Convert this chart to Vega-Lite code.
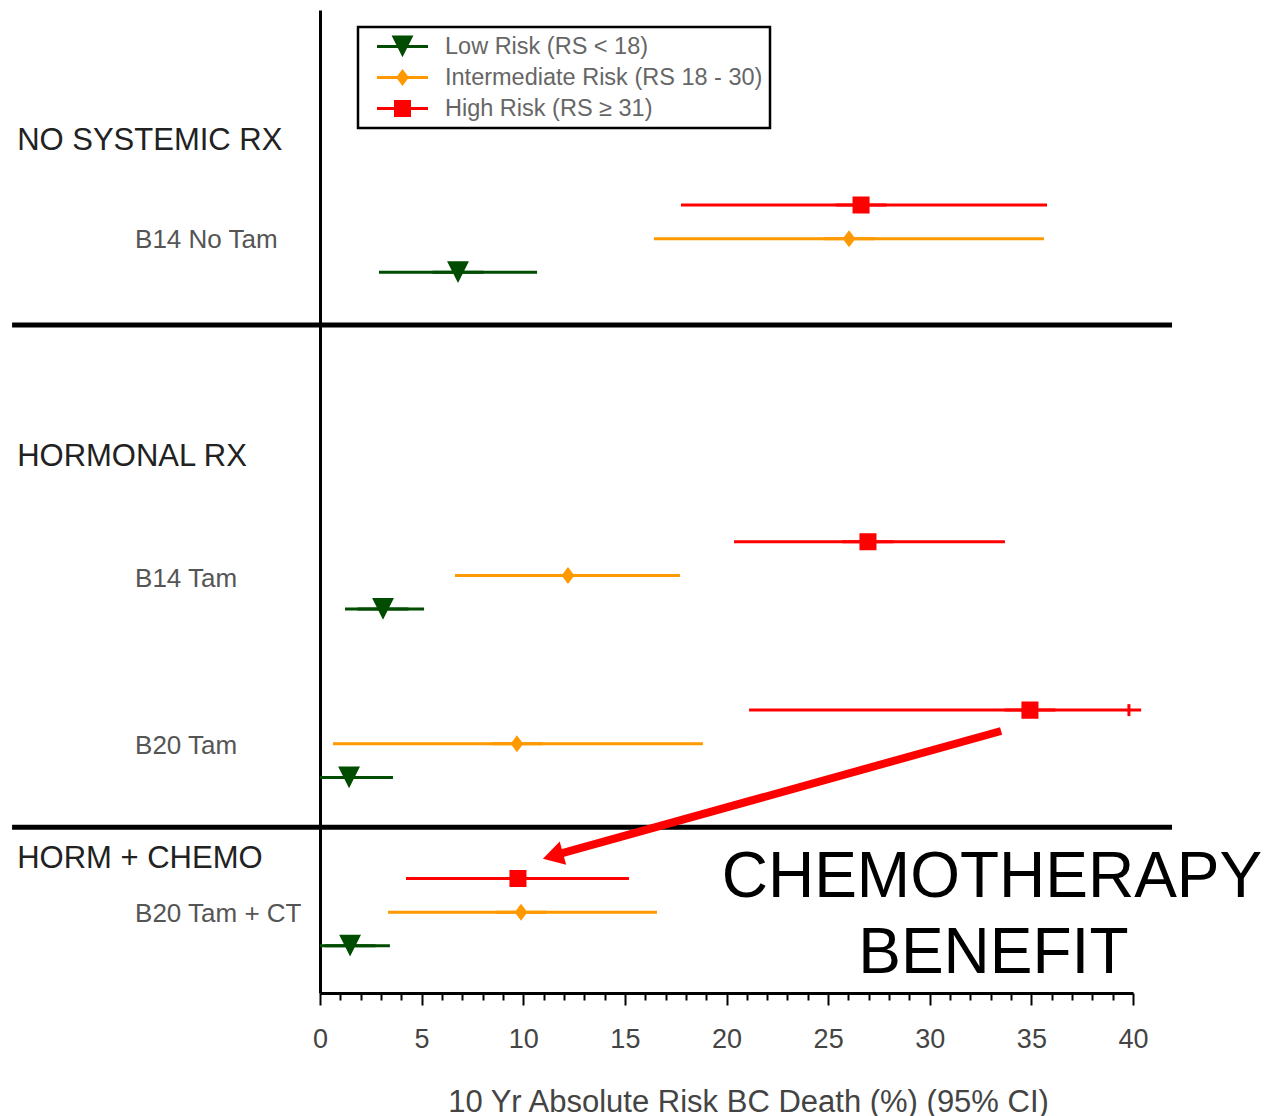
{
  "$schema": "https://vega.github.io/schema/vega-lite/v6.json",
  "width": 813,
  "height": 983,
  "padding": {"left": 9, "top": 10, "right": 0, "bottom": 0},
  "background": "white",
  "config": {"view": {"stroke": null}, "font": "Liberation Sans", "legend": {"strokeWidth": 2.5}},
  "datasets": {
    "ci": [
      {"study": "B14 No Tam", "group": "High Risk (RS ≥ 31)", "est": 26.62, "lo": 17.76, "hi": 35.77, "row": 6},
      {"study": "B14 No Tam", "group": "Intermediate Risk (RS 18 - 30)", "est": 26.03, "lo": 16.43, "hi": 35.62, "row": 7},
      {"study": "B14 No Tam", "group": "Low Risk (RS < 18)", "est": 6.79, "lo": 2.9, "hi": 10.68, "row": 8},
      {"study": "B14 Tam", "group": "High Risk (RS ≥ 31)", "est": 26.96, "lo": 20.37, "hi": 33.7, "row": 16},
      {"study": "B14 Tam", "group": "Intermediate Risk (RS 18 - 30)", "est": 12.2, "lo": 6.64, "hi": 17.71, "row": 17},
      {"study": "B14 Tam", "group": "Low Risk (RS < 18)", "est": 3.1, "lo": 1.23, "hi": 5.12, "row": 18},
      {"study": "B20 Tam", "group": "High Risk (RS ≥ 31)", "est": 34.93, "lo": 21.11, "hi": 40.4, "row": 21},
      {"study": "B20 Tam", "group": "Intermediate Risk (RS 18 - 30)", "est": 9.69, "lo": 0.64, "hi": 18.84, "row": 22},
      {"study": "B20 Tam", "group": "Low Risk (RS < 18)", "est": 1.43, "lo": 0, "hi": 3.59, "row": 23},
      {"study": "B20 Tam + CT", "group": "High Risk (RS ≥ 31)", "est": 9.74, "lo": 4.23, "hi": 15.2, "row": 26},
      {"study": "B20 Tam + CT", "group": "Intermediate Risk (RS 18 - 30)", "est": 9.89, "lo": 3.35, "hi": 16.58, "row": 27},
      {"study": "B20 Tam + CT", "group": "Low Risk (RS < 18)", "est": 1.48, "lo": 0, "hi": 3.44, "row": 28}
    ],
    "labels": [
      {"text": "NO SYSTEMIC RX", "kind": "head", "row": 4.09},
      {"text": "HORMONAL RX", "kind": "head", "row": 13.48},
      {"text": "HORM + CHEMO", "kind": "head", "row": 25.42},
      {"text": "B14 No Tam", "kind": "study", "row": 7.03},
      {"text": "B14 Tam", "kind": "study", "row": 17.12},
      {"text": "B20 Tam", "kind": "study", "row": 22.08},
      {"text": "B20 Tam + CT", "kind": "study", "row": 27.04}
    ],
    "seps": [
      {"x1": -15.15, "x2": 41.92, "row": 9.565},
      {"x1": -15.15, "x2": 41.92, "row": 24.475}
    ],
    "arrow": [
      {"x1": 33.51, "y1": 21.62, "x2": 11.61, "y2": 25.3, "hx": 11.46, "hy": 25.33}
    ],
    "ends": [
      {"x": 39.8, "row": 21}
    ],
    "callout": [
      {"text": "CHEMOTHERAPY", "x": 33.06, "row": 25.98},
      {"text": "BENEFIT", "x": 33.13, "row": 28.25}
    ]
  },
  "layer": [
    {
      "data": {"name": "ci"},
      "mark": {"type": "rule", "strokeWidth": 3},
      "encoding": {
        "x": {
          "field": "lo", "type": "quantitative",
          "scale": {"domain": [0, 40], "nice": false, "zero": false},
          "axis": {"title": "10 Yr Absolute Risk BC Death (%) (95% CI)", "values": [0,1,2,3,4,5,6,7,8,9,10,11,12,13,14,15,16,17,18,19,20,21,22,23,24,25,26,27,28,29,30,31,32,33,34,35,36,37,38,39,40], "labelExpr": "datum.value % 5 === 0 ? datum.label : ''", "grid": false, "domainColor": "black", "domainWidth": 3, "tickColor": "black", "tickWidth": 2, "tickSize": {"condition": {"test": "datum.value % 5 === 0", "value": 12}, "value": 7}, "labelFontSize": 27, "labelFont": "Liberation Sans", "labelColor": "#444", "labelPadding": 21, "labelOverlap": false, "labelFlush": false, "titleFont": "Liberation Sans", "titleFontSize": 31, "titleFontWeight": "normal", "titleColor": "#444", "titlePadding": 35, "titleX": 428}
        },
        "x2": {"field": "hi"},
        "y": {
          "field": "row", "type": "quantitative",
          "scale": {"domain": [0.21, 29.4], "reverse": true, "nice": false, "zero": false},
          "axis": {"title": null, "labels": false, "ticks": false, "grid": false, "domainColor": "black", "domainWidth": 3}
        },
        "color": {
          "field": "group", "type": "nominal",
          "scale": {"domain": ["Low Risk (RS < 18)", "Intermediate Risk (RS 18 - 30)", "High Risk (RS ≥ 31)"], "range": ["#004c00", "#ff9900", "#ff0000"]}
        }
      }
    },
    {
      "data": {"name": "seps"},
      "mark": {"type": "rule", "strokeWidth": 5, "color": "black"},
      "encoding": {
        "x": {"field": "x1", "type": "quantitative",
          "axis": {"title": "10 Yr Absolute Risk BC Death (%) (95% CI)", "values": [0,1,2,3,4,5,6,7,8,9,10,11,12,13,14,15,16,17,18,19,20,21,22,23,24,25,26,27,28,29,30,31,32,33,34,35,36,37,38,39,40], "labelExpr": "datum.value % 5 === 0 ? datum.label : ''", "grid": false, "domainColor": "black", "domainWidth": 3, "tickColor": "black", "tickWidth": 2, "tickSize": {"condition": {"test": "datum.value % 5 === 0", "value": 12}, "value": 7}, "labelFontSize": 27, "labelFont": "Liberation Sans", "labelColor": "#444", "labelPadding": 21, "labelOverlap": false, "labelFlush": false, "titleFont": "Liberation Sans", "titleFontSize": 31, "titleFontWeight": "normal", "titleColor": "#444", "titlePadding": 35, "titleX": 428}},
        "x2": {"field": "x2"},
        "y": {"field": "row", "type": "quantitative"}
      }
    },
    {
      "data": {"name": "ends"},
      "mark": {"type": "point", "shape": "M0,-1V1", "size": 144, "stroke": "#ff0000", "strokeWidth": 3, "filled": false, "opacity": 1},
      "encoding": {
        "x": {"field": "x", "type": "quantitative",
          "axis": {"title": "10 Yr Absolute Risk BC Death (%) (95% CI)", "values": [0,1,2,3,4,5,6,7,8,9,10,11,12,13,14,15,16,17,18,19,20,21,22,23,24,25,26,27,28,29,30,31,32,33,34,35,36,37,38,39,40], "labelExpr": "datum.value % 5 === 0 ? datum.label : ''", "grid": false, "domainColor": "black", "domainWidth": 3, "tickColor": "black", "tickWidth": 2, "tickSize": {"condition": {"test": "datum.value % 5 === 0", "value": 12}, "value": 7}, "labelFontSize": 27, "labelFont": "Liberation Sans", "labelColor": "#444", "labelPadding": 21, "labelOverlap": false, "labelFlush": false, "titleFont": "Liberation Sans", "titleFontSize": 31, "titleFontWeight": "normal", "titleColor": "#444", "titlePadding": 35, "titleX": 428}},
        "y": {"field": "row", "type": "quantitative"}
      }
    },
    {
      "data": {"name": "arrow"},
      "mark": {"type": "rule", "strokeWidth": 8, "color": "#ff0000", "strokeCap": "butt"},
      "encoding": {
        "x": {"field": "x1", "type": "quantitative",
          "axis": {"title": "10 Yr Absolute Risk BC Death (%) (95% CI)", "values": [0,1,2,3,4,5,6,7,8,9,10,11,12,13,14,15,16,17,18,19,20,21,22,23,24,25,26,27,28,29,30,31,32,33,34,35,36,37,38,39,40], "labelExpr": "datum.value % 5 === 0 ? datum.label : ''", "grid": false, "domainColor": "black", "domainWidth": 3, "tickColor": "black", "tickWidth": 2, "tickSize": {"condition": {"test": "datum.value % 5 === 0", "value": 12}, "value": 7}, "labelFontSize": 27, "labelFont": "Liberation Sans", "labelColor": "#444", "labelPadding": 21, "labelOverlap": false, "labelFlush": false, "titleFont": "Liberation Sans", "titleFontSize": 31, "titleFontWeight": "normal", "titleColor": "#444", "titlePadding": 35, "titleX": 428}},
        "x2": {"field": "x2"},
        "y": {"field": "y1", "type": "quantitative"},
        "y2": {"field": "y2"}
      }
    },
    {
      "data": {"name": "arrow"},
      "mark": {"type": "point", "shape": "triangle-right", "size": 576, "angle": 164.4, "filled": true, "color": "#ff0000", "opacity": 1},
      "encoding": {
        "x": {"field": "hx", "type": "quantitative",
          "axis": {"title": "10 Yr Absolute Risk BC Death (%) (95% CI)", "values": [0,1,2,3,4,5,6,7,8,9,10,11,12,13,14,15,16,17,18,19,20,21,22,23,24,25,26,27,28,29,30,31,32,33,34,35,36,37,38,39,40], "labelExpr": "datum.value % 5 === 0 ? datum.label : ''", "grid": false, "domainColor": "black", "domainWidth": 3, "tickColor": "black", "tickWidth": 2, "tickSize": {"condition": {"test": "datum.value % 5 === 0", "value": 12}, "value": 7}, "labelFontSize": 27, "labelFont": "Liberation Sans", "labelColor": "#444", "labelPadding": 21, "labelOverlap": false, "labelFlush": false, "titleFont": "Liberation Sans", "titleFontSize": 31, "titleFontWeight": "normal", "titleColor": "#444", "titlePadding": 35, "titleX": 428}},
        "y": {"field": "hy", "type": "quantitative"}
      }
    },
    {
      "data": {"name": "ci"},
      "mark": {"type": "point", "filled": true, "opacity": 1, "strokeWidth": 3, "size": 2601},
      "encoding": {
        "x": {"field": "est", "type": "quantitative",
          "axis": {"title": "10 Yr Absolute Risk BC Death (%) (95% CI)", "values": [0,1,2,3,4,5,6,7,8,9,10,11,12,13,14,15,16,17,18,19,20,21,22,23,24,25,26,27,28,29,30,31,32,33,34,35,36,37,38,39,40], "labelExpr": "datum.value % 5 === 0 ? datum.label : ''", "grid": false, "domainColor": "black", "domainWidth": 3, "tickColor": "black", "tickWidth": 2, "tickSize": {"condition": {"test": "datum.value % 5 === 0", "value": 12}, "value": 7}, "labelFontSize": 27, "labelFont": "Liberation Sans", "labelColor": "#444", "labelPadding": 21, "labelOverlap": false, "labelFlush": false, "titleFont": "Liberation Sans", "titleFontSize": 31, "titleFontWeight": "normal", "titleColor": "#444", "titlePadding": 35, "titleX": 428}},
        "y": {"field": "row", "type": "quantitative"},
        "color": {
          "field": "group", "type": "nominal",
          "scale": {"domain": ["Low Risk (RS < 18)", "Intermediate Risk (RS 18 - 30)", "High Risk (RS ≥ 31)"], "range": ["#004c00", "#ff9900", "#ff0000"]},
          "legend": {
            "title": null,
            "orient": "none",
            "legendX": 38,
            "legendY": 17,
            "padding": 7.5,
            "strokeColor": "black",
            "clipHeight": 24,
            "rowPadding": 7,
            "symbolOffset": 10,
            "labelOffset": 15.5,
            "symbolSize": 2601,
            "symbolStrokeWidth": 3,
            "labelFont": "Liberation Sans",
            "labelFontSize": 23.5,
            "labelColor": "#666",
            "labelLimit": 500,
            "encode": {"legend": {"update": {"stroke": {"value": "black"}, "strokeWidth": {"value": 2.5}}}}
          }
        },
        "stroke": {
          "field": "group", "type": "nominal",
          "scale": {"domain": ["Low Risk (RS < 18)", "Intermediate Risk (RS 18 - 30)", "High Risk (RS ≥ 31)"], "range": ["#004c00", "#ff9900", "#ff0000"]}
        },
        "shape": {
          "field": "group", "type": "nominal",
          "scale": {
            "domain": ["Low Risk (RS < 18)", "Intermediate Risk (RS 18 - 30)", "High Risk (RS ≥ 31)"],
            "range": [
              "M-1,0H1M-0.333,-0.373H0.333L0,0.29Z",
              "M-1,0H1M0,-0.235L0.176,0L0,0.235L-0.176,0Z",
              "M-1,0H1M-0.275,-0.275H0.275V0.275H-0.275Z"
            ]
          }
        }
      }
    },
    {
      "data": {"name": "labels"},
      "transform": [{"filter": "datum.kind === 'head'"}],
      "mark": {"type": "text", "align": "left", "baseline": "middle", "fontSize": 31, "font": "Liberation Sans", "color": "#222"},
      "encoding": {
        "x": {"datum": -14.9, "type": "quantitative",
          "axis": {"title": "10 Yr Absolute Risk BC Death (%) (95% CI)", "values": [0,1,2,3,4,5,6,7,8,9,10,11,12,13,14,15,16,17,18,19,20,21,22,23,24,25,26,27,28,29,30,31,32,33,34,35,36,37,38,39,40], "labelExpr": "datum.value % 5 === 0 ? datum.label : ''", "grid": false, "domainColor": "black", "domainWidth": 3, "tickColor": "black", "tickWidth": 2, "tickSize": {"condition": {"test": "datum.value % 5 === 0", "value": 12}, "value": 7}, "labelFontSize": 27, "labelFont": "Liberation Sans", "labelColor": "#444", "labelPadding": 21, "labelOverlap": false, "labelFlush": false, "titleFont": "Liberation Sans", "titleFontSize": 31, "titleFontWeight": "normal", "titleColor": "#444", "titlePadding": 35, "titleX": 428}},
        "y": {"field": "row", "type": "quantitative"},
        "text": {"field": "text"}
      }
    },
    {
      "data": {"name": "labels"},
      "transform": [{"filter": "datum.kind === 'study'"}],
      "mark": {"type": "text", "align": "left", "baseline": "middle", "fontSize": 26, "font": "Liberation Sans", "color": "#555"},
      "encoding": {
        "x": {"datum": -9.1, "type": "quantitative",
          "axis": {"title": "10 Yr Absolute Risk BC Death (%) (95% CI)", "values": [0,1,2,3,4,5,6,7,8,9,10,11,12,13,14,15,16,17,18,19,20,21,22,23,24,25,26,27,28,29,30,31,32,33,34,35,36,37,38,39,40], "labelExpr": "datum.value % 5 === 0 ? datum.label : ''", "grid": false, "domainColor": "black", "domainWidth": 3, "tickColor": "black", "tickWidth": 2, "tickSize": {"condition": {"test": "datum.value % 5 === 0", "value": 12}, "value": 7}, "labelFontSize": 27, "labelFont": "Liberation Sans", "labelColor": "#444", "labelPadding": 21, "labelOverlap": false, "labelFlush": false, "titleFont": "Liberation Sans", "titleFontSize": 31, "titleFontWeight": "normal", "titleColor": "#444", "titlePadding": 35, "titleX": 428}},
        "y": {"field": "row", "type": "quantitative"},
        "text": {"field": "text"}
      }
    },
    {
      "data": {"name": "callout"},
      "mark": {"type": "text", "align": "center", "baseline": "middle", "fontSize": 64, "font": "Liberation Sans", "color": "black"},
      "encoding": {
        "x": {"field": "x", "type": "quantitative",
          "axis": {"title": "10 Yr Absolute Risk BC Death (%) (95% CI)", "values": [0,1,2,3,4,5,6,7,8,9,10,11,12,13,14,15,16,17,18,19,20,21,22,23,24,25,26,27,28,29,30,31,32,33,34,35,36,37,38,39,40], "labelExpr": "datum.value % 5 === 0 ? datum.label : ''", "grid": false, "domainColor": "black", "domainWidth": 3, "tickColor": "black", "tickWidth": 2, "tickSize": {"condition": {"test": "datum.value % 5 === 0", "value": 12}, "value": 7}, "labelFontSize": 27, "labelFont": "Liberation Sans", "labelColor": "#444", "labelPadding": 21, "labelOverlap": false, "labelFlush": false, "titleFont": "Liberation Sans", "titleFontSize": 31, "titleFontWeight": "normal", "titleColor": "#444", "titlePadding": 35, "titleX": 428}},
        "y": {"field": "row", "type": "quantitative"},
        "text": {"field": "text"}
      }
    }
  ]
}
